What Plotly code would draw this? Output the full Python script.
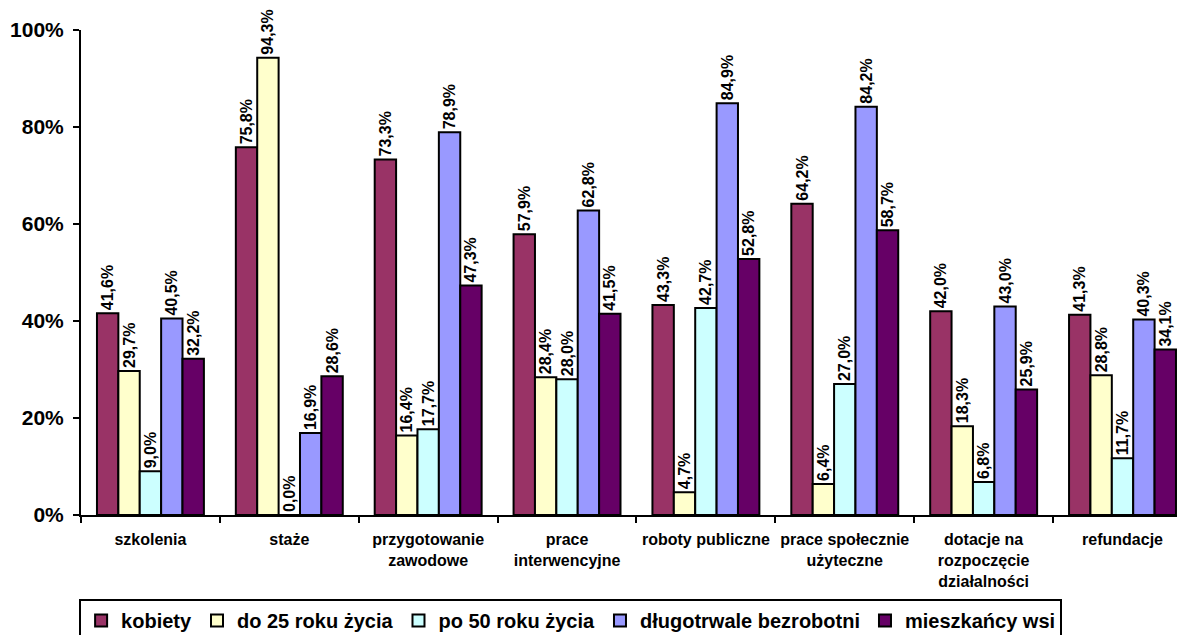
import plotly.graph_objects as go

categories = ["szkolenia", "staże", "przygotowanie<br>zawodowe", "prace<br>interwencyjne",
              "roboty publiczne", "prace społecznie<br>użyteczne",
              "dotacje na<br>rozpoczęcie<br>działalności", "refundacje"]
series_names = ["kobiety", "do 25 roku życia", "po 50 roku życia",
                "długotrwale bezrobotni", "mieszkańcy wsi"]
kobiety = [41.6, 75.8, 73.3, 57.9, 43.3, 64.2, 42.0, 41.3]
do25 = [29.7, 94.3, 16.4, 28.4, 4.7, 6.4, 18.3, 28.8]
po50 = [9.0, 0.0, 17.7, 28.0, 42.7, 27.0, 6.8, 11.7]
dlugotrwale = [40.5, 16.9, 78.9, 62.8, 84.9, 84.2, 43.0, 40.3]
wsi = [32.2, 28.6, 47.3, 41.5, 52.8, 58.7, 25.9, 34.1]
colors = ["#993366", "#FFFFCC", "#CCFFFF", "#9999FF", "#660066"]

FONT = "Arial, Liberation Sans, sans-serif"

fig = go.Figure()
for name, vals, col in zip(series_names, [kobiety, do25, po50, dlugotrwale, wsi], colors):
    fig.add_trace(go.Bar(
        name=name, x=categories, y=[v / 100 for v in vals],
        marker=dict(color=col, line=dict(color="black", width=2)),
        text=[f"{v:.1f}".replace(".", ",") + "%" for v in vals],
        textposition="outside", textangle=-90, constraintext="none", cliponaxis=False,
        textfont=dict(family=FONT, size=16, color="black", weight="bold"),
        hoverinfo="skip",
    ))

fig.update_layout(
    width=1177, height=627,
    margin=dict(l=73, r=0, t=22, b=120, autoexpand=False),
    barmode="group", bargap=0.23, bargroupgap=0,
    plot_bgcolor="white", paper_bgcolor="white",
    font=dict(family=FONT, color="black"),
    showlegend=True,
    legend=dict(
        orientation="h", xref="container", yref="container",
        x=0.478, xanchor="center", y=0.0574, yanchor="top",
        bordercolor="black", borderwidth=2, bgcolor="white",
        font=dict(family=FONT, size=20, color="black", weight="bold"),
        itemwidth=30, tracegroupgap=0,
    ),
    xaxis=dict(
        range=[-0.5, 7.45], showline=True, linecolor="black", linewidth=2,
        ticks="outside", tickson="boundaries", ticklen=6, tickwidth=2, tickcolor="black",
        tickfont=dict(family=FONT, size=16, color="black", weight="bold"),
        ticklabelstandoff=9, showgrid=False, tickangle=0, automargin=False,
    ),
    yaxis=dict(
        range=[0, 1], dtick=0.2, tickformat=".0%", showline=True, linecolor="black",
        linewidth=2, ticks="outside", ticklen=6, tickwidth=2, tickcolor="black",
        tickfont=dict(family=FONT, size=21, color="black", weight="bold"),
        showgrid=False, zeroline=False, ticklabelstandoff=5, automargin=False,
    ),
)

fig.write_html("out.html")
